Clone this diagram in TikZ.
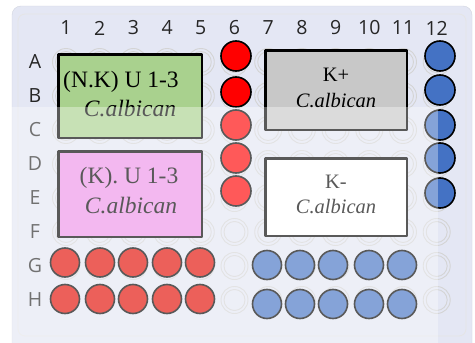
\documentclass[tikz,border=0pt]{standalone}
\usepackage{fontspec}
\setmainfont{Liberation Serif}
\newfontfamily\platefont{Open Sans}
\usetikzlibrary{positioning}
\definecolor{platebg}{HTML}{E4E7F4}
\definecolor{nkgreen}{HTML}{A9D18E}
\definecolor{kpink}{HTML}{EE92E8}
\definecolor{kgray}{HTML}{C8C8C8}
\definecolor{wellblue}{HTML}{4472C4}
\definecolor{wellred}{HTML}{FF0000}
\definecolor{rowred}{HTML}{E20C02}
\tikzset{
  well/.style={draw=black, line width=1.6pt},
  emptywell/.style={draw=black!17, line width=0.9pt},
  groupbox/.style={draw=black, line width=2.5pt, inner sep=0pt},
  lbl/.style={anchor=base, inner sep=0pt, font=\fontsize{23.5}{26}\selectfont},
  lblit/.style={lbl, font=\fontsize{23.5}{26}\selectfont\itshape},
  rlbl/.style={lbl, font=\fontsize{20.5}{24}\selectfont},
  rlblit/.style={lbl, font=\fontsize{20.5}{24}\selectfont\itshape},
  axis/.style={inner sep=0pt, font=\platefont\fontsize{19.5}{22}\selectfont, text=black!85}
}
\begin{document}
\begin{tikzpicture}[x=1pt, y=-1pt, line join=round, line cap=round]
\useasboundingbox (0,0) rectangle (475,343);
\fill[white] (0,0) rectangle (475,343);
% plate
\draw[fill=platebg, draw=platebg!92!black, rounded corners=9pt] (12,6) rectangle (472,352);
\draw[draw=black!10, line width=0.8pt, rounded corners=7pt] (18,14) rectangle (466,336);
% empty wells
\foreach \c in {1,...,12} \foreach \r in {1,...,8}
  {\draw[emptywell] (66+33.7*\c-33.7, 62+34*\r-34) circle (13.5) circle (10.5);}
% column and row labels
\foreach \c in {1,...,12} \node[axis] (col\c) at (66+33.7*\c-33.7, 28) {\c};
\foreach \r [count=\i] in {A,B,C,D,E,F,G,H} \node[axis] (row\r) at (35, 62+34*\i-34) {\r};
% sample groups
\node[groupbox, fill=nkgreen, minimum width=143.5pt, minimum height=83.5pt] (nk) at (130,96) {};
\node[groupbox, fill=kpink, minimum width=143.5pt, minimum height=85.5pt] (kk) at (130,194) {};
\node[groupbox, fill=kgray, minimum width=141.5pt, minimum height=79.5pt] (kplus) at (336,90) {};
\node[groupbox, fill=white, minimum width=141.5pt, minimum height=77.5pt] (kminus) at (336,197) {};
\node[lbl] (nkA) at (121,87) {(N.K) U 1-3};
\node[lblit] (nkB) at (130,116) {C.albican};
\node[lbl] (kkA) at (129,183) {(K). U 1-3};
\node[lblit] (kkB) at (131,213) {C.albican};
\node[rlbl] (kplusA) at (336,81) {K+};
\node[rlblit] (kplusB) at (336,107) {C.albican};
\node[rlbl] (kminusA) at (336,188) {K-};
\node[rlblit] (kminusB) at (336,213) {C.albican};
% filled wells
\foreach \p/\y in {a/56,b/92,c/125,d/158,e/191} \draw[well, fill=wellred] (236,\y) circle (15) coordinate (red\p);
\foreach \p/\y in {a/56,b/90,c/125,d/158,e/193} \draw[well, fill=wellblue] (440,\y) circle (15) coordinate (blue\p);
\foreach \x [count=\i] in {65,100,133,167,200} {
  \draw[well, fill=rowred] (\x,262.5) circle (14.5) coordinate (redG\i);
  \draw[well, fill=rowred] (\x,299) circle (14.5) coordinate (redH\i);}
\foreach \x [count=\i] in {267,300,333,369,402} {
  \draw[well, fill=wellblue] (\x,265) circle (14.5) coordinate (blueG\i);
  \draw[well, fill=wellblue] (\x,304) circle (14.5) coordinate (blueH\i);}
% light band over the lower plate
\fill[white, opacity=0.35] (0,107) rectangle (438,343);
\end{tikzpicture}
\end{document}
